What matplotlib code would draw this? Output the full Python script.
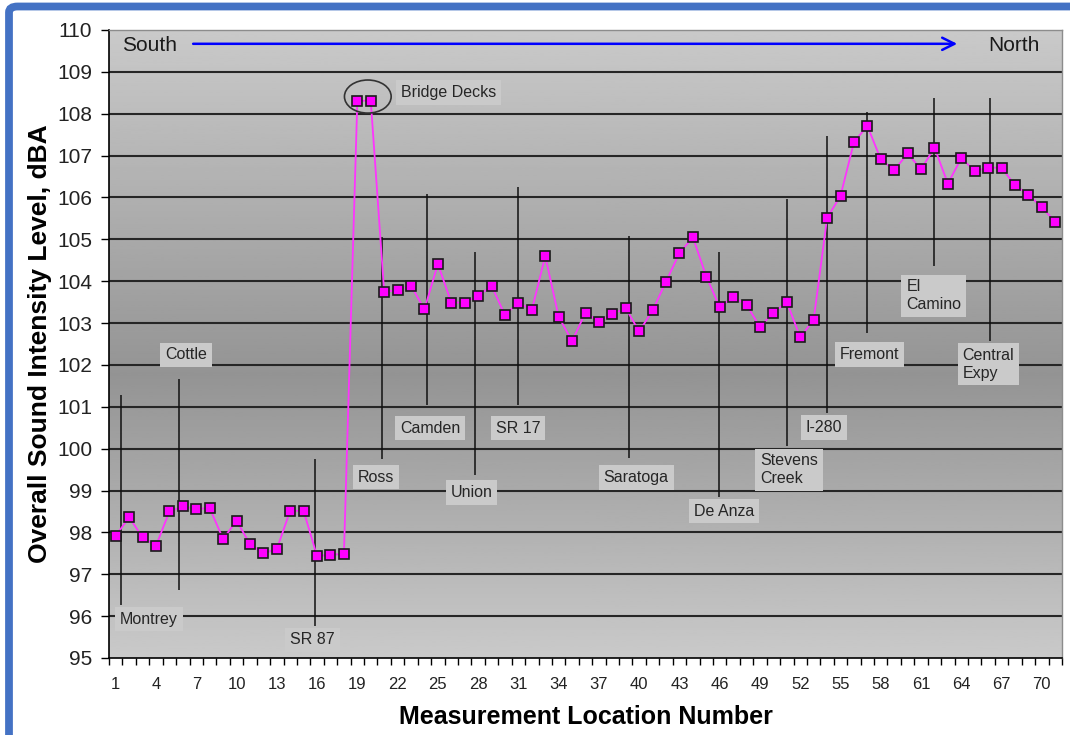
import numpy as np
import matplotlib.pyplot as plt
from matplotlib.patches import Ellipse, FancyBboxPatch

plt.rcParams['font.family'] = ['Liberation Sans', 'DejaVu Sans']

# Overall sound intensity level at each measurement location (dBA)
locations = np.arange(1, 72)
levels = [97.92, 98.36, 97.88, 97.68, 98.50, 98.62, 98.56, 98.58, 97.84, 98.28,
          97.72, 97.50, 97.60, 98.52, 98.51, 97.43, 97.47, 97.48, 108.31, 108.31,
          103.74, 103.79, 103.89, 103.33, 104.41, 103.49, 103.49, 103.65, 103.89, 103.19,
          103.49, 103.31, 104.60, 103.15, 102.57, 103.25, 103.03, 103.22, 103.35, 102.80,
          103.30, 103.99, 104.67, 105.05, 104.11, 103.38, 103.63, 103.43, 102.91, 103.25,
          103.50, 102.66, 103.08, 105.51, 106.04, 107.32, 107.71, 106.91, 106.65, 107.05,
          106.67, 107.19, 106.33, 106.94, 106.63, 106.71, 106.71, 106.29, 106.07, 105.76,
          105.42]

# Cross streets / interchanges along the route
roads = ['Montrey', 'Cottle', 'SR 87', 'Ross', 'Camden', 'Union', 'SR 17',
         'Saratoga', 'De Anza', 'Stevens\nCreek', 'I-280', 'Fremont',
         'El\nCamino', 'Central\nExpy']
road_x = [1.40, 5.75, 15.87, 20.87, 24.16, 27.79, 30.95, 39.25, 45.95, 51.0,
          53.99, 57.0, 61.94, 66.17]
road_top = [101.28, 101.66, 99.75, 105.06, 106.08, 104.70, 106.26, 105.08,
            104.70, 105.96, 107.47, 108.03, 108.38, 108.38]
road_bottom = [96.27, 96.63, 95.77, 99.75, 101.04, 99.37, 101.04, 99.78,
               98.85, 100.06, 100.85, 102.76, 104.37, 102.57]
label_x = [1.32, 4.68, 14.0, 19.0, 22.2, 25.95, 29.3, 37.36, 44.08, 48.99,
           52.4, 54.97, 59.9, 64.08]
label_y = [95.93, 102.24, 95.43, 99.32, 100.49, 98.95, 100.49, 99.31, 98.51,
           99.49, 100.51, 102.25, 103.65, 102.02]

fig = plt.figure(figsize=(10.7, 7.35), dpi=100)
ax = fig.add_axes([0.1019, 0.1048, 0.8906, 0.8544])

# gray vertical gradient behind the plot
stops_pos = [0.0, 0.55, 1.0]
stops_val = [0.79, 0.58, 0.79]
col = np.interp(np.linspace(0, 1, 300), stops_pos, stops_val).reshape(-1, 1)
ax.imshow(col, cmap='gray', vmin=0, vmax=1, aspect='auto',
          extent=[0.5, 71.5, 95, 110], origin='upper', zorder=0)

ax.hlines(range(96, 110), 0.5, 71.5, color='#262626', lw=1.5, zorder=1)

# street markers
ax.vlines(road_x, road_bottom, road_top, color='#111111', lw=1.1, zorder=2)
box = dict(boxstyle='square,pad=0.3', fc='#cacaca', ec='none')
for name, lx, ly in zip(roads, label_x, label_y):
    ax.text(lx, ly, name, ha='left', va='center', fontsize=11.5,
            color='#262626', bbox=box, zorder=5, linespacing=1.25)

ax.plot(locations, levels, color='#ff33ff', lw=1.3, marker='s', markersize=6.5,
        mfc='#ff00ff', mec='#1a1a1a', mew=1.2, zorder=4)

ax.add_patch(Ellipse((19.78, 108.41), 3.48, 0.79, fill=False, ec='#333333',
                     lw=1.2, zorder=4))
ax.text(22.22, 108.50, 'Bridge Decks', ha='left', va='center', fontsize=11.5,
        color='#262626', bbox=box, zorder=5)

# direction of travel
ax.text(1.48, 109.64, 'South', ha='left', va='center', fontsize=15, color='#1a1a1a')
ax.text(66.0, 109.64, 'North', ha='left', va='center', fontsize=15, color='#1a1a1a')
ax.annotate('', xy=(63.9, 109.67), xytext=(6.56, 109.67),
            arrowprops=dict(arrowstyle='->', color='#0000ff', lw=1.8,
                            mutation_scale=22))

ax.set_xlim(0.5, 71.5)
ax.set_ylim(95, 110)
ax.set_xticks(range(1, 71, 3))
ax.set_xticks(np.arange(0.5, 72, 1), minor=True)
ax.set_yticks(range(95, 111))
ax.tick_params(axis='x', which='major', length=0, pad=14, labelsize=12, labelcolor='#222222')
ax.tick_params(axis='x', which='minor', length=5, width=1, direction='out')
ax.tick_params(axis='y', length=6, width=1, pad=6, labelsize=15, labelcolor='#222222')

for side in ['left', 'bottom']:
    ax.spines[side].set_color('black')
    ax.spines[side].set_linewidth(1.2)
for side in ['top', 'right']:
    ax.spines[side].set_color('#8c8c8c')
    ax.spines[side].set_linewidth(1.0)

ax.set_xlabel('Measurement Location Number', fontsize=18, fontweight='bold', labelpad=9)
ax.set_ylabel('Overall Sound Intensity Level, dBA', fontsize=19, fontweight='bold', labelpad=4)

# blue frame on top and left
frame = FancyBboxPatch((9 / 1070, -0.1), 1.2, (728.5 / 735) + 0.1,
                       boxstyle='round,pad=0,rounding_size=0.008',
                       transform=fig.transFigure, fill=False, ec='#4472c4',
                       lw=5.6, clip_on=False)
fig.patches.append(frame)

fig.savefig('out.png', dpi=100)
